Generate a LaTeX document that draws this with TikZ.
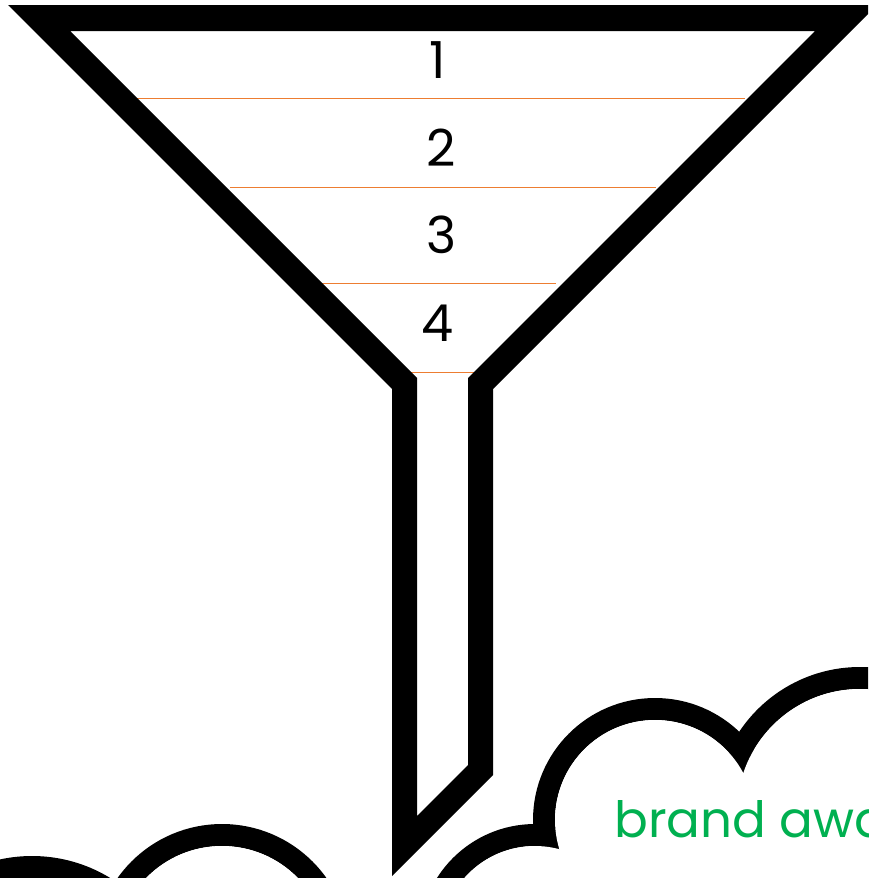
\documentclass[tikz,border=0pt]{standalone}
\usepackage{fontspec}
\setmainfont{Poppins}
\definecolor{funnelorange}{HTML}{ED7D31}
\definecolor{brandgreen}{HTML}{00B050}
\begin{document}
\begin{tikzpicture}[x=1pt,y=-1pt,
  layerline/.style={draw=funnelorange,line width=1.5pt},
  numlabel/.style={font=\fontsize{51}{51}\selectfont, text=black, inner sep=0pt},
  brandlabel/.style={font=\fontsize{50}{50}\selectfont, text=brandgreen, inner sep=0pt, anchor=base west},
  cloudring/.style={draw=black,line width=22pt},
  cloudhole/.style={fill=white}]
\useasboundingbox (0,0) rectangle (868,878);
\clip (0,0) rectangle (868,878);
% orange layer lines
\coordinate (l1a) at (137,98.5);  \coordinate (l1b) at (745,98.5);
\coordinate (l2a) at (230,187.5); \coordinate (l2b) at (656,187.5);
\coordinate (l3a) at (320,283.5); \coordinate (l3b) at (556,283.5);
\coordinate (l4a) at (411,372.5); \coordinate (l4b) at (477,372.5);
\draw[layerline] (l1a) -- (l1b);
\draw[layerline] (l2a) -- (l2b);
\draw[layerline] (l3a) -- (l3b);
\draw[layerline] (l4a) -- (l4b);
% clouds (left)
\draw[cloudring] (32,1006) circle[radius=139pt];
\draw[cloudring] (222,952) circle[radius=117pt];
\fill[cloudhole] (32,1006) circle[radius=128pt];
\fill[cloudhole] (222,952) circle[radius=106pt];
% clouds (right)
\draw[cloudring] (535,940) circle[radius=105pt];
\draw[cloudring] (655,820) circle[radius=111pt];
\draw[cloudring] (860,812) circle[radius=134pt];
\fill[cloudhole] (535,940) circle[radius=94pt];
\fill[cloudhole] (655,820) circle[radius=100pt];
\fill[cloudhole] (860,812) circle[radius=123pt];
\fill[cloudhole] (600,800) rectangle (868,880);
% funnel
\fill[black,even odd rule]
  (8,5) -- (877,5) -- (493,389) -- (493,775) -- (392,876) -- (392,389) -- cycle
  (70,31) -- (815,31) -- (468,378) -- (468,765) -- (417,816) -- (417,378) -- cycle;
% labels
\node[numlabel] (n1) at (438,60) {1};
\node[numlabel] (n2) at (441,148) {2};
\node[numlabel] (n3) at (442,234.5) {3};
\node[numlabel] (n4) at (438,323) {4};
\node[brandlabel] (brand) at (614,837) {brand awa};
\end{tikzpicture}
\end{document}
